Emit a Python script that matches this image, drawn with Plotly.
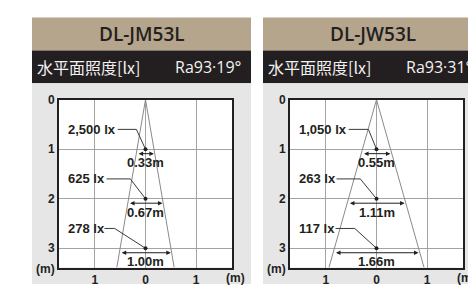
import math
import plotly.graph_objects as go

# ---------------- data ----------------
models = ["DL-JM53L", "DL-JW53L"]
beam_labels = ["Ra93·19°", "Ra93·31°"]
beam_angles = [19, 31]
depths = [1, 2, 3]
lux_jm = ["2,500 lx", "625 lx", "278 lx"]
lux_jw = ["1,050 lx", "263 lx", "117 lx"]
width_jm = [0.33, 0.67, 1.00]
width_jw = [0.55, 1.11, 1.66]
x_tick_vals = [-1, 0, 1]
x_tick_text = ["1", "0", "1"]
y_tick_vals = [0, 1, 2, 3]
y_tick_text = ["0", "1", "2", "3"]
header_left = "水平面照度[lx]"
unit_label = "(m)"

# ---------------- layout constants ----------------
W, H = 468, 287
DARK = "#231f20"
TAN = "#b5a58c"
GRAY = "#e6e6e6"
GRID = "#a3a3a3"
CONE = "#8a8a8a"
LABEL_FONT = dict(family="Liberation Sans, Arial, sans-serif", size=13, color=DARK, weight="bold")
TICK_FONT = dict(family="Liberation Sans, Arial, sans-serif", size=12, color=DARK, weight="bold")
HEAD_FONT = "Open Sans, Noto Sans, Noto Sans CJK JP, sans-serif"
XR = [-1.71, 1.71]
YR = [3.39, 0]
# leader geometry (x of line start, x of bend) per panel
leader_start = [[-0.55, -0.77, -0.81], [-0.55, -0.79, -0.81]]
leader_bend = [[-0.18, -0.30, -0.61], [-0.16, -0.32, -0.43]]
panels = [dict(left=32), dict(left=263)]
PANEL_W = 219


def PX(x):
    return x / W


def PY(y):
    return 1 - y / H


fig = go.Figure()
shapes = []
annotations = []

all_lux = [lux_jm, lux_jw]
all_w = [width_jm, width_jw]

for i, p in enumerate(panels):
    xa = "x" if i == 0 else "x2"
    ya = "y" if i == 0 else "y2"
    L = p["left"]
    R = L + PANEL_W
    # panel backgrounds
    shapes.append(dict(type="rect", xref="paper", yref="paper", x0=PX(L), x1=PX(R),
                       y0=PY(45), y1=PY(11), fillcolor=TAN, line_width=0, layer="below"))
    shapes.append(dict(type="rect", xref="paper", yref="paper", x0=PX(L), x1=PX(R),
                       y0=PY(79), y1=PY(45), fillcolor=DARK, line_width=0, layer="below"))
    shapes.append(dict(type="rect", xref="paper", yref="paper", x0=PX(L), x1=PX(R),
                       y0=PY(287), y1=PY(79), fillcolor=GRAY, line_width=0, layer="below"))
    shapes.append(dict(type="rect", xref=xa + " domain", yref=ya + " domain", x0=0, x1=1,
                       y0=0, y1=1, fillcolor="white", line_width=0, layer="below"))
    # header texts
    annotations.append(dict(xref="paper", yref="paper", x=PX(L + PANEL_W / 2), y=PY(28),
                            text=models[i], showarrow=False, xanchor="center", yanchor="middle",
                            font=dict(family=HEAD_FONT, size=19, color=DARK, weight=600)))
    annotations.append(dict(xref="paper", yref="paper", x=PX(L + 3), y=PY(62),
                            text=header_left, showarrow=False, xanchor="left", yanchor="middle",
                            font=dict(family="Noto Sans CJK JP, sans-serif", size=16, color="#f2f2f2")))
    annotations.append(dict(xref="paper", yref="paper", x=PX(L + 211), y=PY(62),
                            text=beam_labels[i], showarrow=False, xanchor="right", yanchor="middle",
                            font=dict(family=HEAD_FONT, size=16, color="#f2f2f2")))
    # unit labels
    annotations.append(dict(xref="paper", yref="paper", x=PX(L + 13.5), y=PY(271),
                            text=unit_label, showarrow=False, xanchor="center", yanchor="middle",
                            font=TICK_FONT))
    annotations.append(dict(xref="paper", yref="paper", x=PX(L + 203.5), y=PY(281),
                            text=unit_label, showarrow=False, xanchor="center", yanchor="middle",
                            font=TICK_FONT))

    # beam cone
    half = math.tan(math.radians(beam_angles[i] / 2)) * YR[0]
    fig.add_trace(go.Scatter(x=[-half, 0, half], y=[YR[0], 0, YR[0]], mode="lines",
                             line=dict(color=CONE, width=1), xaxis=xa, yaxis=ya,
                             hoverinfo="skip", showlegend=False))
    for k, d in enumerate(depths):
        ly = d - 0.4
        # leader line
        fig.add_trace(go.Scatter(x=[leader_start[i][k], leader_bend[i][k], 0], y=[ly, ly, d],
                                 mode="lines", line=dict(color="#3a3a3a", width=1),
                                 xaxis=xa, yaxis=ya, hoverinfo="skip", showlegend=False))
        # illuminance label
        annotations.append(dict(xref=xa, yref=ya, x=-1.57, y=ly, text=all_lux[i][k],
                                showarrow=False, xanchor="left", yanchor="middle", font=LABEL_FONT))
        # width arrow + label
        w = all_w[i][k]
        annotations.append(dict(xref=xa, yref=ya, x=w / 2, y=d + 0.09, axref=xa, ayref=ya,
                                ax=-w / 2, ay=d + 0.09, text="", showarrow=True, arrowhead=2,
                                arrowside="end+start", arrowsize=0.9, arrowwidth=1,
                                arrowcolor=DARK, standoff=0, startstandoff=0))
        annotations.append(dict(xref=xa, yref=ya, x=0, y=d + 0.27, text=f"{w:.2f}m",
                                showarrow=False, xanchor="center", yanchor="middle", font=LABEL_FONT))
    # dots
    fig.add_trace(go.Scatter(x=[0] * len(depths), y=depths, mode="markers",
                             marker=dict(color=DARK, size=4), xaxis=xa, yaxis=ya,
                             hoverinfo="skip", showlegend=False))

axis_common = dict(showgrid=True, gridcolor=GRID, gridwidth=1, zeroline=False, showline=True,
                   mirror=True, linecolor=DARK, linewidth=2, ticks="", tickfont=TICK_FONT,
                   fixedrange=True)

fig.update_layout(
    width=W, height=H, margin=dict(l=0, r=0, t=0, b=0),
    paper_bgcolor="white", plot_bgcolor="rgba(0,0,0,0)",
    showlegend=False, shapes=shapes, annotations=annotations,
    xaxis=dict(domain=[PX(59), PX(232)], range=XR, tickvals=x_tick_vals, ticktext=x_tick_text,
               anchor="y", ticklabelstandoff=0, **axis_common),
    yaxis=dict(domain=[PY(270), PY(96)], range=YR, tickvals=y_tick_vals, ticktext=y_tick_text,
               anchor="x", ticklabelstandoff=0, **axis_common),
    xaxis2=dict(domain=[PX(290), PX(463)], range=XR, tickvals=x_tick_vals, ticktext=x_tick_text,
                anchor="y2", ticklabelstandoff=0, **axis_common),
    yaxis2=dict(domain=[PY(270), PY(96)], range=YR, tickvals=y_tick_vals, ticktext=y_tick_text,
                anchor="x2", ticklabelstandoff=0, **axis_common),
)

fig.write_html(
    "out.html",
    config={"displayModeBar": False},
    post_script="document.body.style.margin='0';document.body.style.padding='0';"
                "document.documentElement.style.overflow='hidden';",
)
